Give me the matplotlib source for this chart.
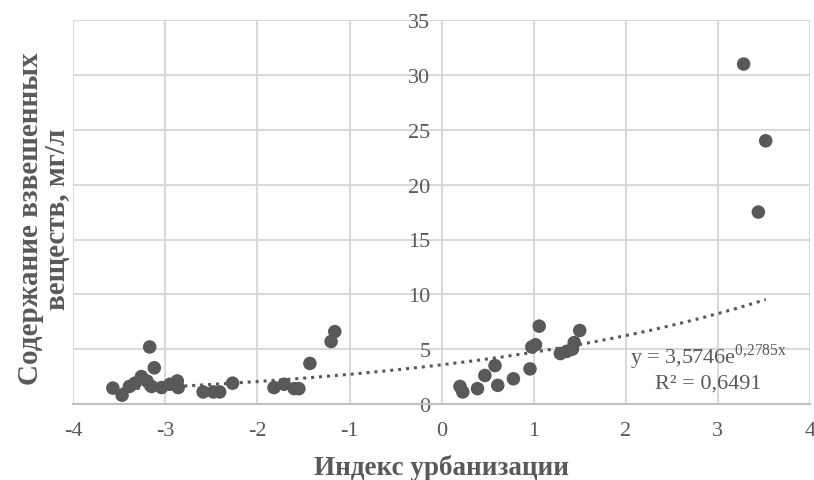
import numpy as np
import matplotlib.pyplot as plt

plt.rcParams['font.family'] = ['Liberation Serif', 'DejaVu Serif']
plt.rcParams['axes.unicode_minus'] = False
plt.rcParams['mathtext.fontset'] = 'custom'
plt.rcParams['mathtext.rm'] = 'Liberation Serif'

# индекс урбанизации и содержание взвешенных веществ
urb_index = [-3.57, -3.47, -3.39, -3.33, -3.26, -3.20, -3.17, -3.15, -3.12, -3.04,
             -2.95, -2.87, -2.86, -2.59, -2.48, -2.41, -2.27,
             -1.82, -1.71, -1.60, -1.55, -1.43, -1.20, -1.16,
             0.20, 0.23, 0.39, 0.47, 0.58, 0.61, 0.78, 0.96, 0.98, 1.02, 1.06,
             1.29, 1.36, 1.42, 1.44, 1.50,
             3.28, 3.44, 3.52]
susp = [1.45, 0.8, 1.6, 1.9, 2.5, 2.1, 5.2, 1.6, 3.3, 1.5,
        1.8, 2.1, 1.5, 1.1, 1.1, 1.1, 1.9,
        1.5, 1.8, 1.4, 1.4, 3.7, 5.7, 6.6,
        1.6, 1.1, 1.4, 2.6, 3.5, 1.7, 2.3, 3.2, 5.2, 5.4, 7.1,
        4.6, 4.8, 5.0, 5.6, 6.7,
        31.0, 17.5, 24.0]

# экспоненциальный тренд
a, b = 3.5746, 0.2785
r2 = 0.6491

grey = '#595959'

fig = plt.figure(figsize=(8.14, 4.81), dpi=100)
ax = fig.add_axes([0.09, 0.158, 0.905, 0.798])

xt = np.linspace(min(urb_index), max(urb_index), 200)
ax.plot(xt, a * np.exp(b * xt), color=grey, linestyle=(0, (1, 1.6)), linewidth=2.2, zorder=2)
ax.scatter(urb_index, susp, s=95, color=grey, edgecolors='none', zorder=3)

ax.set_xlim(-4, 4)
ax.set_ylim(0, 35)
ax.set_xticks(range(-4, 5))
ax.set_yticks(range(0, 36, 5))
ax.grid(True, color='#d9d9d9', linewidth=1.5)
ax.set_axisbelow(True)

for s in ['top', 'right']:
    ax.spines[s].set_visible(False)
ax.spines['left'].set_position(('data', 0))
ax.spines['left'].set_visible(False)
ax.spines['bottom'].set_color('#bfbfbf')
ax.spines['bottom'].set_linewidth(1.5)
ax.tick_params(length=0, labelsize=16, labelcolor=grey)
ax.tick_params(axis='x', pad=12)
ax.tick_params(axis='y', pad=8)

ax.set_xlabel('Индекс урбанизации', fontsize=19.5, fontweight='bold', color=grey, labelpad=10)
fig.text(0.054, 0.545, 'Содержание взвешенных\nвеществ, мг/л', rotation=90,
         ha='center', va='center', fontsize=21, fontweight='bold', color=grey,
         linespacing=1.0)

ax.text(2.9, 4.4, r'y = 3,5746e$^{\mathrm{0{,}2785x}}$', ha='center', va='center',
        fontsize=16, color=grey)
ax.text(2.9, 1.9, 'R² = ' + f'{r2}'.replace('.', ','), ha='center', va='center',
        fontsize=16, color=grey)

fig.savefig('out.png', dpi=100)
